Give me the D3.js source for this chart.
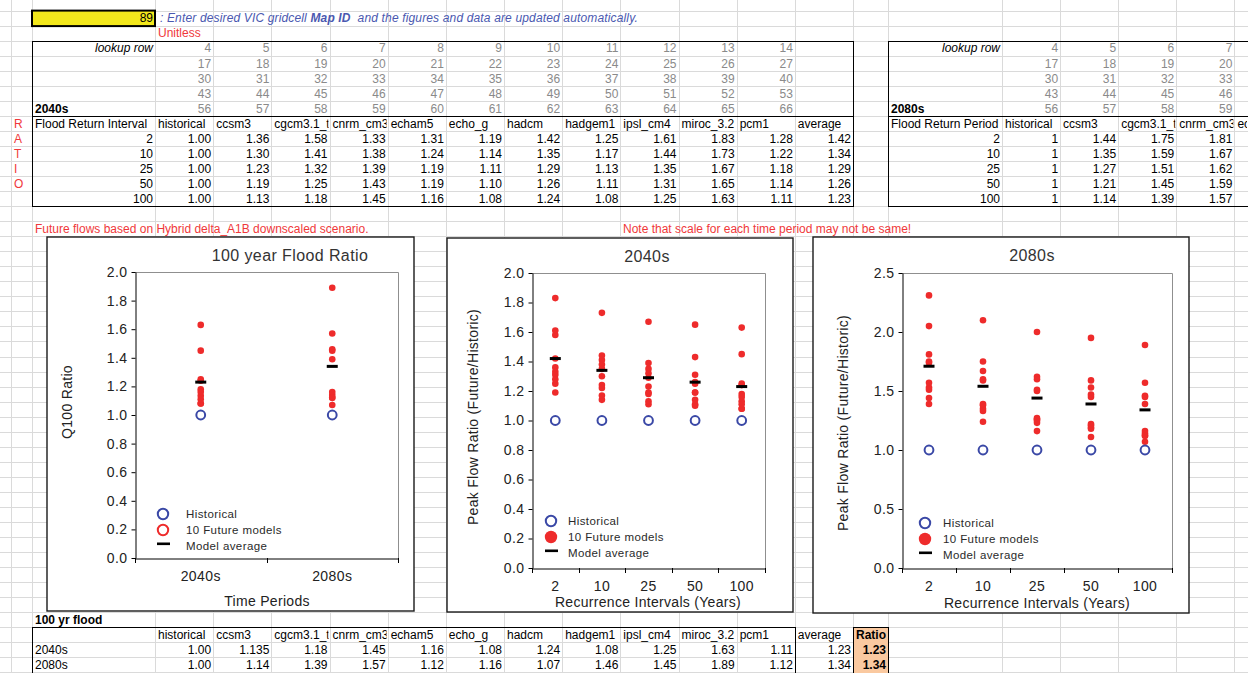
<!DOCTYPE html>
<html><head><meta charset="utf-8">
<script src="https://cdn.jsdelivr.net/npm/d3@7"></script>
<style>
html,body{margin:0;padding:0;background:#fff;overflow:hidden}
svg{display:block}
text{font-family:"Liberation Sans",Arial,sans-serif}
</style></head><body>
<svg id="c" width="1248" height="673"></svg>
<script>
// ---------------- data ----------------
const mapId = "89";
const models = ["historical","ccsm3","cgcm3.1_t","cnrm_cm3","echam5","echo_g","hadcm","hadgem1","ipsl_cm4","miroc_3.2","pcm1"];
const intervals = [2, 10, 25, 50, 100];
const lookupRows = [
  [4,5,6,7,8,9,10,11,12,13,14],
  [17,18,19,20,21,22,23,24,25,26,27],
  [30,31,32,33,34,35,36,37,38,39,40],
  [43,44,45,46,47,48,49,50,51,52,53],
  [56,57,58,59,60,61,62,63,64,65,66]
];
const histValue = 1.0;
// future model ratios per recurrence interval (ccsm3 ... pcm1)
const ratio2040 = [
  [1.36,1.58,1.33,1.31,1.19,1.42,1.25,1.61,1.83,1.28],
  [1.30,1.41,1.38,1.24,1.14,1.35,1.17,1.44,1.73,1.22],
  [1.23,1.32,1.39,1.19,1.11,1.29,1.13,1.35,1.67,1.18],
  [1.19,1.25,1.43,1.19,1.10,1.26,1.11,1.31,1.65,1.14],
  [1.13,1.18,1.45,1.16,1.08,1.24,1.08,1.25,1.63,1.11]
];
const avg2040 = [1.42,1.34,1.29,1.26,1.23];
const ratio2080 = [
  [1.44,1.75,1.81,1.39,1.53,1.51,1.74,2.05,2.31,1.57],
  [1.35,1.59,1.67,1.33,1.38,1.24,1.60,1.75,2.10,1.39],
  [1.27,1.51,1.62,1.25,1.16,1.23,1.50,1.60,2.00,1.26],
  [1.21,1.45,1.59,1.19,1.18,1.11,1.47,1.53,1.95,1.22],
  [1.14,1.39,1.57,1.12,1.16,1.07,1.46,1.45,1.89,1.12]
];
const avg2080 = [1.71,1.54,1.44,1.39,1.34];
const periods = ["2040s","2080s"];
const q100Text = [
  ["1.00","1.135","1.18","1.45","1.16","1.08","1.24","1.08","1.25","1.63","1.11"],
  ["1.00","1.14","1.39","1.57","1.12","1.16","1.07","1.46","1.45","1.89","1.12"]
];
const q100 = [
  [1.135,1.18,1.45,1.16,1.08,1.24,1.08,1.25,1.63,1.11],
  [1.14,1.39,1.57,1.12,1.16,1.07,1.46,1.45,1.89,1.12]
];
const q100Avg = [1.23,1.34];
const yTicks20 = [0,0.2,0.4,0.6,0.8,1.0,1.2,1.4,1.6,1.8,2.0];
const yTicks25 = [0,0.5,1.0,1.5,2.0,2.5];

// ---------------- sheet layout ----------------
const W = 1248;
const svg = d3.select("#c");
const defs = svg.append("defs");
svg.append("rect").attr("width",W).attr("height",673).attr("fill","#fff");
const rowTop = i => 10.6 + i*15.04;
const dataStart = 155, colW = 58.17;
const colL = j => dataStart + j*colW;
const rStart = 1002, rColW = 58.1;
const colR = j => rStart + j*rColW;
const rVisible = j => colR(j+1) <= W;     // right-table columns fully on screen
const vEdges = [11, 32];
for (let k=0;k<=12;k++) vEdges.push(colL(k));
vEdges.push(888);
for (let k=0;k<5;k++) vEdges.push(colR(k));

const grid = svg.append("g").attr("stroke","#dadada").attr("stroke-width",1);
for (let i=0;i<45;i++) grid.append("line").attr("x1",0).attr("x2",W).attr("y1",Math.round(rowTop(i))+0.5).attr("y2",Math.round(rowTop(i))+0.5);
vEdges.forEach(x=>grid.append("line").attr("x1",Math.round(x)+0.5).attr("x2",Math.round(x)+0.5).attr("y1",0).attr("y2",673));

let clipN = 0;
function cell(x0,x1,r,txt,o={}){
  const y = rowTop(r) + 11.8;
  let x, anchor;
  if (o.align==="right"){ x = x1-2; anchor="end"; }
  else if (o.align==="center"){ x=(x0+x1)/2; anchor="middle"; }
  else { x = x0+3; anchor="start"; }
  const t = svg.append("text").attr("x",x).attr("y",y).attr("text-anchor",anchor)
    .attr("font-size",o.size||12).attr("fill",o.color||"#000")
    .attr("font-weight",o.bold?"bold":"normal").attr("font-style",o.italic?"italic":"normal")
    .text(txt);
  if (o.clip){
    const id="cl"+(clipN++);
    defs.append("clipPath").attr("id",id).append("rect").attr("x",x0).attr("y",rowTop(r)).attr("width",Math.min(x1,W)-x0-1).attr("height",15);
    t.attr("clip-path",`url(#${id})`);
  }
  return t;
}
function box(x0,y0,x1,y1,sw=1){
  svg.append("rect").attr("x",Math.round(x0)+0.5).attr("y",Math.round(y0)+0.5)
    .attr("width",Math.round(x1)-Math.round(x0)).attr("height",Math.round(y1)-Math.round(y0))
    .attr("fill","none").attr("stroke","#000").attr("stroke-width",sw);
}
function hline(x0,x1,y){
  svg.append("line").attr("x1",x0).attr("x2",x1).attr("y1",Math.round(y)+0.5).attr("y2",Math.round(y)+0.5).attr("stroke","#000");
}

// top row: map id cell and instruction
svg.append("rect").attr("x",32).attr("y",rowTop(0)).attr("width",123).attr("height",15.5).attr("fill","#f3e81c").attr("stroke","#000").attr("stroke-width",2);
cell(32,155,0,mapId,{align:"right"});
const note = svg.append("text").attr("x",160).attr("y",rowTop(0)+11.8).attr("font-size",12).attr("font-style","italic").attr("fill","#4a58b0").style("white-space","pre").style("letter-spacing","0.15px");
note.append("tspan").text(": Enter desired VIC gridcell ");
note.append("tspan").attr("font-weight","bold").text("Map ID");
note.append("tspan").text("  and the figures and data are updated automatically.");
cell(155,213,1,"Unitless",{color:"#f0383a"});

// top tables (2040s left, 2080s right)
lookupRows.forEach((row,i)=>{
  row.forEach((v,j)=>cell(colL(j),colL(j+1),2+i,String(v),{align:"right",color:"#8a8a8a"}));
  row.forEach((v,j)=>{ if (rVisible(j)) cell(colR(j),colR(j+1),2+i,String(v),{align:"right",color:"#8a8a8a"}); });
});
cell(32,155,2,"lookup row",{align:"right",italic:true});
cell(888,1002,2,"lookup row",{align:"right",italic:true});
cell(32,155,6,"2040s",{bold:true});
cell(888,1002,6,"2080s",{bold:true});
cell(32,155,7,"Flood Return Interval");
cell(888,1002,7,"Flood Return Period");
models.concat(["average"]).forEach((m,j)=>{
  cell(colL(j),colL(j+1),7,m,{clip:true});
  if (colR(j) < W) cell(colR(j),colR(j+1),7,m,{clip:true});
});
const fmt2 = d3.format(".2f");
intervals.forEach((iv,i)=>{
  cell(32,155,8+i,String(iv),{align:"right"});
  cell(888,1002,8+i,String(iv),{align:"right"});
  cell(colL(0),colL(1),8+i,fmt2(histValue),{align:"right"});
  cell(colR(0),colR(1),8+i,String(histValue),{align:"right"});
  ratio2040[i].forEach((v,j)=>cell(colL(j+1),colL(j+2),8+i,fmt2(v),{align:"right"}));
  ratio2080[i].forEach((v,j)=>{ if (rVisible(j+1)) cell(colR(j+1),colR(j+2),8+i,fmt2(v),{align:"right"}); });
  cell(colL(11),colL(12),8+i,fmt2(avg2040[i]),{align:"right"});
});
["R","A","T","I","O"].forEach((c,i)=>cell(11,32,7+i,c,{color:"#f0383a"}));
box(32,rowTop(2),colL(12),rowTop(13));
hline(32,colL(12),rowTop(7));
box(888,rowTop(2),1300,rowTop(13));
hline(888,1300,rowTop(7));

cell(32,400,14,"Future flows based on Hybrid delta_A1B downscaled scenario.",{color:"#f0383a"});
cell(620,1000,14,"Note that scale for each time period may not be same!",{color:"#f0383a"});

// bottom table
cell(32,155,40,"100 yr flood",{bold:true});
svg.append("rect").attr("x",853.5).attr("y",Math.round(rowTop(41))+0.5).attr("width",35).attr("height",60).attr("fill","#fac9a0").attr("stroke","#000");
box(32,rowTop(41),colL(11),700);
models.forEach((m,j)=>cell(colL(j),colL(j+1),41,m,{clip:true}));
cell(colL(11),colL(12),41,"average");
cell(853,888,41,"Ratio",{bold:true});
periods.forEach((p,i)=>{
  cell(32,155,42+i,p);
  q100Text[i].forEach((v,j)=>cell(colL(j),colL(j+1),42+i,v,{align:"right"}));
  cell(colL(11),colL(12),42+i,fmt2(q100Avg[i]),{align:"right"});
  cell(853,888,42+i,fmt2(q100Avg[i]),{align:"right",bold:true});
});

// ---------------- charts ----------------
const RED = "#ee2b2b", BLUE = "#3a48a6";
function chart(o){
  const g = svg.append("g");
  g.append("rect").attr("x",o.box[0]).attr("y",o.box[1]).attr("width",o.box[2]-o.box[0]).attr("height",o.box[3]-o.box[1])
    .attr("fill","#fff").attr("stroke","#1a1a1a").attr("stroke-width",1.4);
  const x = d3.scaleBand().domain(o.cats).range([o.pl,o.pr]);
  const y = d3.scaleLinear().domain([0,o.ymax]).range([o.pb,o.pt]);
  g.append("path").attr("d",`M${o.pl},${o.pt+0.5}H${o.pr+0.5}V${o.pb}`).attr("fill","none").attr("stroke","#8f8f8f");
  const ya = g.append("g").attr("transform",`translate(${o.pl+0.5},0)`)
    .call(d3.axisLeft(y).tickValues(o.yticks).tickSize(4).tickSizeOuter(0).tickPadding(4).tickFormat(d3.format(".1f")));
  const xa = g.append("g").attr("transform",`translate(0,${o.pb+0.5})`)
    .call(d3.axisBottom(x).tickSize(0).tickSizeOuter(0).tickPadding(12.5));
  [ya,xa].forEach(a=>{
    a.selectAll("path,line").attr("stroke","#000");
    a.selectAll("text").attr("font-size",14).attr("fill","#222").attr("font-family","Liberation Sans, Arial, sans-serif").style("letter-spacing","0.4px");
  });
  const bounds = o.cats.map(c=>x(c)).concat([o.pr]);
  g.selectAll(".bt").data(bounds).join("line").attr("x1",d=>Math.round(d)+0.5).attr("x2",d=>Math.round(d)+0.5)
    .attr("y1",o.pb).attr("y2",o.pb+5).attr("stroke","#000");
  g.append("text").attr("x",o.title[1]).attr("y",o.title[2]).attr("text-anchor","middle").attr("font-size",16).attr("fill","#333").style("letter-spacing","0.4px").text(o.title[0]);
  g.append("text").attr("transform",`translate(${o.ytitle[1]},${o.ytitle[2]}) rotate(-90)`).attr("text-anchor","middle").attr("dominant-baseline","central")
    .attr("font-size",14).attr("fill","#222").style("letter-spacing","0.3px").text(o.ytitle[0]);
  g.append("text").attr("x",o.xtitle[1]).attr("y",o.xtitle[2]).attr("text-anchor","middle").attr("font-size",14).attr("fill","#222").style("letter-spacing","0.3px").text(o.xtitle[0]);
  const cx = c => x(c) + x.bandwidth()/2;
  o.cats.forEach((c,i)=>{
    g.selectAll(null).data(o.values[i]).join("circle").attr("cx",cx(c)).attr("cy",d=>y(d)).attr("r",3.3).attr("fill",RED);
    g.append("rect").attr("x",cx(c)-5.5).attr("y",y(o.avg[i])-1.5).attr("width",11).attr("height",3).attr("fill","#000");
    g.append("circle").attr("cx",cx(c)).attr("cy",y(histValue)).attr("r",4.4).attr("fill","none").attr("stroke",BLUE).attr("stroke-width",2);
  });
  const L = o.legend;
  g.append("circle").attr("cx",L.mx).attr("cy",L.ys[0]).attr("r",5.2).attr("fill","none").attr("stroke",BLUE).attr("stroke-width",2);
  if (L.redOpen) g.append("circle").attr("cx",L.mx).attr("cy",L.ys[1]).attr("r",5.2).attr("fill","none").attr("stroke",RED).attr("stroke-width",2);
  else g.append("circle").attr("cx",L.mx).attr("cy",L.ys[1]).attr("r",6.2).attr("fill",RED);
  g.append("rect").attr("x",L.mx-6).attr("y",L.ys[2]-3.5).attr("width",13).attr("height",2.6).attr("fill","#000");
  ["Historical","10 Future models","Model average"].forEach((t,i)=>{
    g.append("text").attr("x",L.tx).attr("y",L.ys[i]+4).attr("font-size",11.5).attr("font-family","Open Sans, sans-serif")
      .attr("fill","#2a2a2a").style("letter-spacing","0.4px").text(t);
  });
}

chart({box:[47,237,414,611], pl:135, pt:272, pr:398, pb:558, ymax:2.0, yticks:yTicks20,
  cats:periods, values:q100, avg:q100Avg,
  title:["100 year Flood Ratio",290,261], ytitle:["Q100 Ratio",67,402], xtitle:["Time Periods",267,606],
  legend:{mx:163, tx:186, ys:[514,530,546], redOpen:true}});
chart({box:[447,238,793,612], pl:532, pt:273, pr:765, pb:568, ymax:2.0, yticks:yTicks20,
  cats:intervals.map(String), values:ratio2040, avg:avg2040,
  title:["2040s",647,262], ytitle:["Peak Flow Ratio (Future/Historic)",473,417], xtitle:["Recurrence Intervals (Years)",648,607],
  legend:{mx:551, tx:568, ys:[521,537,553], redOpen:false}});
chart({box:[813,237,1189,613], pl:902, pt:273, pr:1172, pb:568, ymax:2.5, yticks:yTicks25,
  cats:intervals.map(String), values:ratio2080, avg:avg2080,
  title:["2080s",1032,261], ytitle:["Peak Flow Ratio (Future/Historic)",843,423], xtitle:["Recurrence Intervals (Years)",1037,608],
  legend:{mx:925, tx:943, ys:[523,539,555], redOpen:false}});
</script>
</body></html>
